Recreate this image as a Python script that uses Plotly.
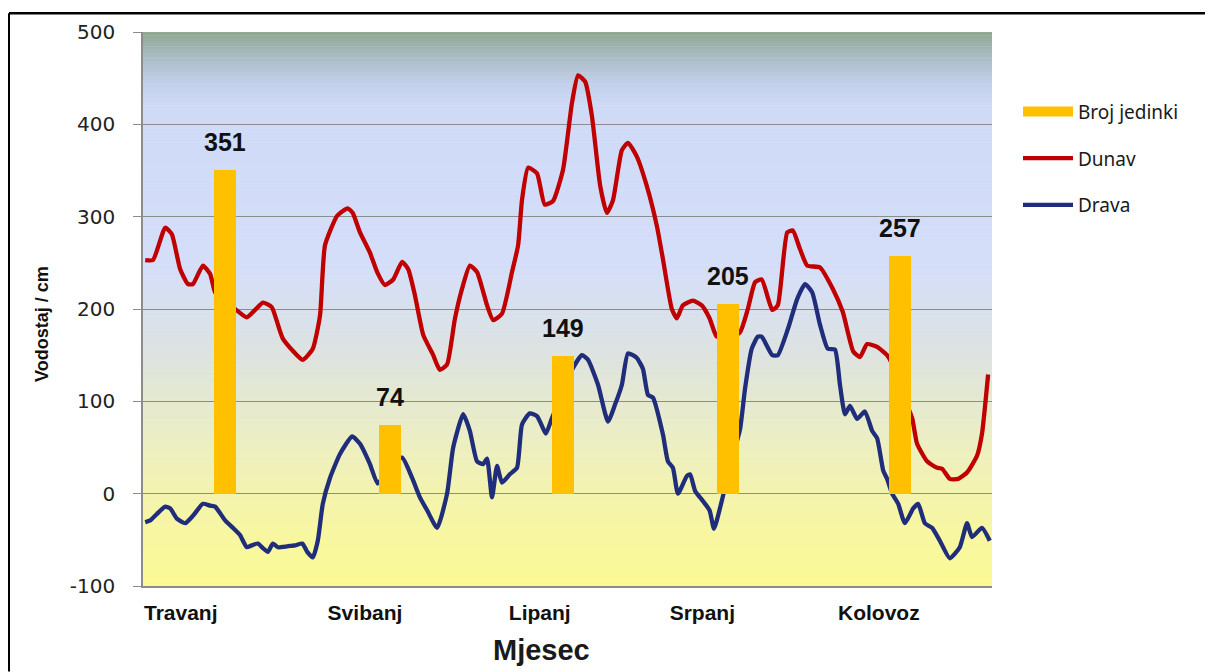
import plotly.graph_objects as go

# ---------------- data ----------------
# x = day counted from the start of the series (1 April), y = water level in cm
dunav_day = [0.4, 1.8, 4.0, 5.2, 6.7, 8.1, 9.0, 10.8, 12.1, 13.0, 14.8, 16.6, 18.7, 20.2,
             21.6, 23.2, 25.2, 28.8, 30.6, 31.9, 32.8, 35.0, 36.9, 37.8, 39.1, 40.9, 42.2,
             43.6, 45.1, 46.7, 47.8, 49.0, 50.5, 52.3, 53.5, 54.8, 56.2, 57.5, 58.9, 60.2,
             62.0, 63.1, 64.7, 66.5, 67.6, 68.3, 69.4, 71.0, 72.4, 73.9, 75.7, 77.3, 78.4,
             79.7, 80.9, 82.4, 83.6, 84.7, 86.3, 87.4, 89.0, 90.8, 92.6, 93.7, 95.3, 96.2,
             97.3, 99.1, 100.7, 102.1, 103.4, 105.4, 107.6, 109.0, 110.3, 111.5, 113.4,
             114.4, 116.1, 117.1, 118.4, 119.7, 122.0, 124.3, 126.1, 128.0, 129.2, 130.5,
             132.3, 134.1, 135.0, 136.4, 138.6, 139.5, 141.3, 143.1, 144.0, 145.4, 146.9,
             148.5, 150.3, 151.2, 152.3]
dunav_cm = [253, 253, 288, 281, 243, 227, 227, 247, 238, 218, 208, 200, 191, 199,
            207, 202, 168, 145, 157, 193, 269, 301, 309, 304, 283, 261, 240,
            226, 232, 251, 243, 215, 172, 150, 134, 140, 189, 222, 247, 240,
            204, 188, 195, 240, 269, 318, 353, 347, 313, 317, 351, 423, 453,
            446, 409, 333, 304, 318, 372, 380, 365, 333, 290, 254, 200, 190,
            204, 209, 204, 190, 170, 168, 175, 200, 229, 232, 199,
            204, 283, 285, 265, 247, 245, 222, 197, 154, 148, 162,
            159, 150, 140, 115, 82, 54, 35, 28, 27, 16, 16,
            23, 41, 65, 129]

drava_day = [0.4, 1.3, 2.5, 4.0, 4.9, 6.1, 7.6, 9.0, 10.8, 12.1, 13.0, 14.8, 16.2, 17.5,
             18.7, 19.6, 20.7, 21.6, 22.5, 23.4, 24.3, 26.0, 27.4, 28.7, 29.6, 30.6, 31.5,
             32.4, 33.7, 35.5, 37.7, 39.1, 40.9, 42.3, 44.5, 46.7, 48.5, 49.9, 51.2, 53.0,
             54.8, 55.9, 57.7, 58.9, 60.2, 61.3, 62.0, 62.9, 63.8, 64.7, 66.1, 67.4, 68.3,
             69.7, 71.0, 71.7, 72.6, 73.7, 75.7, 77.3, 79.1, 80.2, 82.0, 83.8, 85.1, 86.3,
             87.4, 89.0, 90.1, 91.0, 91.9, 93.7, 94.6, 95.5, 96.4, 98.0, 98.6, 99.5, 100.9,
             102.1, 102.9, 104.3, 105.8, 107.6, 108.5, 109.7, 110.8, 111.5, 113.4, 114.4,
             116.2, 117.9, 119.3, 120.6, 122.0, 123.4, 124.7, 125.6, 126.5, 127.4, 128.7,
             130.1, 131.4, 132.3, 133.4, 134.1, 135.0, 136.1, 137.3, 138.8, 139.7, 140.9,
             142.2, 143.6, 145.4, 147.2, 148.5, 149.4, 151.2, 152.6]
drava_cm = [-31, -29, -22, -14, -16, -27, -32, -24, -11, -13, -14, -29, -37, -45,
            -58, -56, -54, -59, -63, -54, -58, -57, -56, -54, -63, -69, -51,
            -11, 17, 43, 62, 54, 32, 11, 30, 39, 17, -4, -18, -37,
            0, 50, 86, 68, 35, 32, 38, -4, 30, 12, 21, 28, 75,
            87, 84, 76, 65, 82, 110, 134, 150, 145, 118, 78, 97, 118,
            152, 147, 135, 107, 104, 64, 35, 28, 0, 19, 21, 3, -8,
            -18, -38, -8, 30, 70, 114, 157, 170, 170, 150, 150,
            178, 211, 227, 218, 183, 157, 156, 118, 86, 95, 81,
            89, 68, 60, 25, 16, 0, -11, -32, -16, -11, -32,
            -37, -51, -70, -58, -32, -47, -37, -51]

bar_day = [14.8, 44.5, 75.7, 105.4, 136.4]
broj_jedinki = [351, 74, 149, 205, 257]

month_pos = [6.8, 40.0, 71.5, 100.8, 132.6]
month_labels = ["Travanj", "Svibanj", "Lipanj", "Srpanj", "Kolovoz"]

y_ticks = [-100, 0, 100, 200, 300, 400, 500]
y_tick_labels = ["-100", "0", "100", "200", "300", "400", "500"]

Y_MIN, Y_MAX = -100, 500
X_MAX = 153

# ---------------- styling helpers ----------------
grad_stops = [
    (500, (143, 168, 143)),
    (475, (168, 186, 192)),
    (445, (193, 207, 232)),
    (420, (207, 218, 247)),
    (250, (212, 222, 249)),
    (200, (216, 224, 238)),
    (150, (221, 227, 224)),
    (100, (229, 233, 208)),
    (50, (237, 239, 193)),
    (0, (243, 243, 174)),
    (-50, (248, 247, 160)),
    (-100, (251, 250, 148)),
]


def grad_color(v):
    for (v1, c1), (v2, c2) in zip(grad_stops[:-1], grad_stops[1:]):
        if v2 <= v <= v1:
            t = (v1 - v) / (v1 - v2)
            return "rgb(%d,%d,%d)" % tuple(round(a + (b - a) * t) for a, b in zip(c1, c2))
    return "rgb(251,250,148)"


shapes = []
step = 4
v = Y_MAX
while v > Y_MIN:
    lo = max(v - step, Y_MIN)
    shapes.append(dict(type="rect", xref="x domain", yref="y", x0=0, x1=1, y0=lo, y1=v + 0.6,
                       fillcolor=grad_color((v + lo) / 2), line=dict(width=0), layer="below"))
    v = lo

# page body has an 8px margin: screen coords -> figure coords
OFF = 8
W, H = 1213 - OFF, 672 - OFF
PL, PR, PT, PB = 143, 992, 28, 586          # plot area in screen coords
px2x = lambda p: (p - PL) / (PR - PL)
py2y = lambda p: (PB - p) / (PB - PT)

# outer frame (left + top)
shapes.append(dict(type="line", xref="paper", yref="paper", x0=px2x(9), x1=px2x(1213),
                   y0=py2y(9), y1=py2y(9), line=dict(color="black", width=2.5)))
shapes.append(dict(type="line", xref="paper", yref="paper", x0=px2x(9), x1=px2x(9),
                   y0=py2y(9), y1=py2y(672), line=dict(color="black", width=2)))

fig = go.Figure()
fig.add_trace(go.Scatter(x=[None], y=[None], mode="lines", name="Broj jedinki",
                         line=dict(color="#FFC000", width=14), legendgroup="a", legendrank=1,
                         hoverinfo="skip"))
fig.add_trace(go.Scatter(x=dunav_day, y=dunav_cm, mode="lines", name="Dunav",
                         line=dict(color="#C00000", width=4.3, shape="spline", smoothing=0.5),
                         legendgroup="b", legendrank=2))
fig.add_trace(go.Scatter(x=drava_day, y=drava_cm, mode="lines", name="Drava",
                         line=dict(color="#1F2D7A", width=4.3, shape="spline", smoothing=0.5),
                         legendgroup="c", legendrank=3))
fig.add_trace(go.Bar(x=bar_day, y=broj_jedinki, name="Broj jedinki", yaxis="y2",
                     width=4.0, marker=dict(color="#FFC000", line=dict(width=0)),
                     showlegend=False))

annotations = []
for d, n in zip(bar_day, broj_jedinki):
    annotations.append(dict(x=d, y=n, xref="x", yref="y2", text=str(n), showarrow=False,
                            yanchor="bottom", yshift=12,
                            font=dict(family="Liberation Sans, Arial", size=25, color="#111",
                                      weight="bold")))
annotations.append(dict(x=px2x(541), y=py2y(650), xref="paper", yref="paper", text="Mjesec",
                        showarrow=False, xanchor="center", yanchor="middle",
                        font=dict(family="Liberation Sans, Arial", size=29, color="#1a1a1a",
                                  weight="bold")))
annotations.append(dict(x=px2x(42), y=py2y(322), xref="paper", yref="paper",
                        text="Vodostaj / cm", textangle=-90, showarrow=False,
                        xanchor="center", yanchor="middle",
                        font=dict(family="Liberation Sans, Arial", size=18, color="#111",
                                  weight="bold")))

fig.update_layout(
    width=W, height=H,
    margin=dict(l=PL - OFF, r=W - (PR - OFF), t=PT - OFF, b=H - (PB - OFF), pad=0),
    paper_bgcolor="white", plot_bgcolor="white",
    shapes=shapes, annotations=annotations,
    showlegend=True,
    bargap=0,
    legend=dict(x=px2x(1018), y=py2y(89), xanchor="left", yanchor="top",
                font=dict(family="Noto Sans", size=19, color="#1a1a1a"),
                tracegroupgap=19, bgcolor="rgba(0,0,0,0)", traceorder="grouped",
                itemwidth=50),
    xaxis=dict(range=[0, X_MAX], showgrid=False, zeroline=False,
               showline=True, linecolor="#8C8C8C", linewidth=1.5,
               tickmode="array", tickvals=month_pos, ticktext=month_labels,
               ticks="", ticklabelstandoff=7,
               tickfont=dict(family="Liberation Sans, Arial", size=21, color="#111",
                             weight="bold")),
    yaxis=dict(range=[Y_MIN, Y_MAX], tickmode="array", tickvals=y_ticks,
               ticktext=y_tick_labels, showgrid=True, gridcolor="#8C8C8C",
               gridwidth=1, zeroline=False, showline=True, linecolor="#8C8C8C",
               linewidth=1.5, ticks="outside", ticklen=8, tickcolor="#8C8C8C",
               ticklabelstandoff=14,
               tickfont=dict(family="DejaVu Sans", size=20, color="#222")),
    yaxis2=dict(range=[Y_MIN, Y_MAX], overlaying="y", visible=False),
)

fig.write_html("out.html")
